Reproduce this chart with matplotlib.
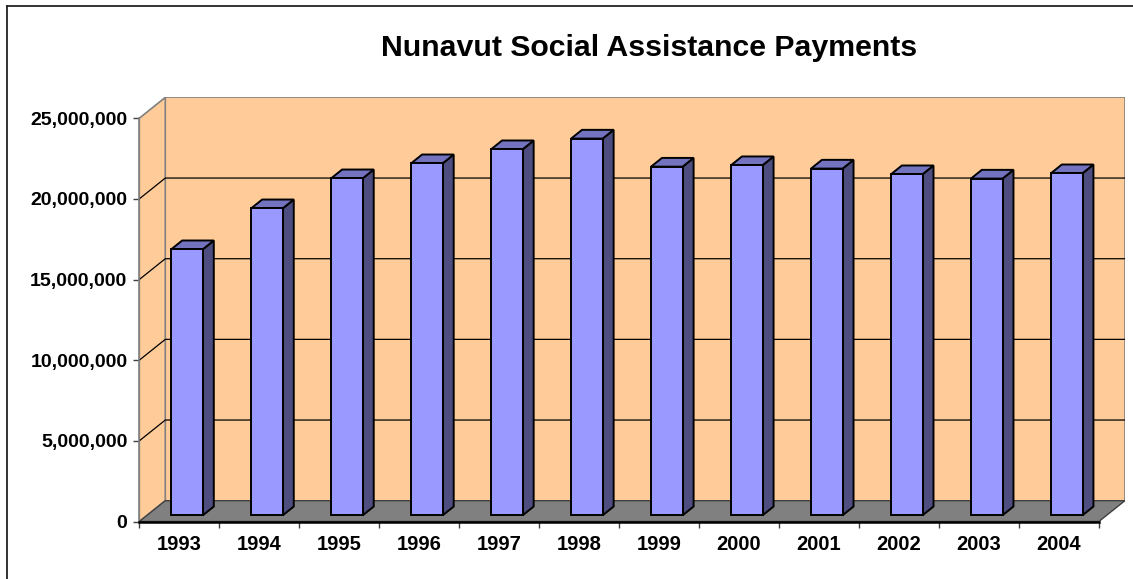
import matplotlib.pyplot as plt
from matplotlib.patches import Polygon
from matplotlib.lines import Line2D
from matplotlib.ticker import FuncFormatter, MultipleLocator, FixedLocator

years = ['1993', '1994', '1995', '1996', '1997', '1998',
         '1999', '2000', '2001', '2002', '2003', '2004']
payments = [16_490_000, 19_030_000, 20_890_000, 21_820_000, 22_690_000, 23_350_000,
            21_610_000, 21_700_000, 21_490_000, 21_140_000, 20_870_000, 21_200_000]
y_max = 25_000_000
y_step = 5_000_000

# fake 3d: depth offset of the back wall, in data units
DX = 0.325
DY = 1_290_000
BAR_W = 0.395
D0, D1 = 0.30, 0.72

WALL = '#FFCC99'
FLOOR = '#808080'
FRONT = '#9999FF'
SIDE = '#4D4D80'
TOP = '#7373BF'
plt.rcParams['font.family'] = ['Liberation Sans', 'DejaVu Sans']

W, H, DPI = 1133, 579, 100
fig = plt.figure(figsize=(W / DPI, H / DPI), dpi=DPI)
ax = fig.add_axes([139.3 / W, (H - 521.5) / H, 985.6 / W, 424.1 / H])
n = len(years)
ax.set_xlim(0, n + DX)
ax.set_ylim(0, y_max + DY)
ax.patch.set_visible(False)

# back wall and left side wall
ax.add_patch(Polygon([(DX, DY), (n + DX, DY), (n + DX, y_max + DY), (DX, y_max + DY)],
                     closed=True, fc=WALL, ec=FLOOR, lw=1.2, zorder=1))
ax.add_patch(Polygon([(0, 0), (DX, DY), (DX, y_max + DY), (0, y_max)],
                     closed=True, fc=WALL, ec=FLOOR, lw=1.2, zorder=1))

# gridlines across both walls
for v in range(y_step, y_max, y_step):
    ax.plot([0, DX, n + DX], [v, v + DY, v + DY], color='black', lw=0.9, zorder=2)

# floor
ax.add_patch(Polygon([(0, 0), (n, 0), (n + DX, DY), (DX, DY)],
                     closed=True, fc=FLOOR, ec='#404040', lw=1.0, zorder=3))

# bars: front, side and top faces
for i, v in enumerate(payments):
    c = i + 0.5
    xl, xr = c - BAR_W / 2, c + BAR_W / 2
    front = [(xl + D0 * DX, D0 * DY), (xr + D0 * DX, D0 * DY),
             (xr + D0 * DX, v + D0 * DY), (xl + D0 * DX, v + D0 * DY)]
    side = [(xr + D0 * DX, D0 * DY), (xr + D1 * DX, D1 * DY),
            (xr + D1 * DX, v + D1 * DY), (xr + D0 * DX, v + D0 * DY)]
    top = [(xl + D0 * DX, v + D0 * DY), (xr + D0 * DX, v + D0 * DY),
           (xr + D1 * DX, v + D1 * DY), (xl + D1 * DX, v + D1 * DY)]
    for pts, col in ((side, SIDE), (top, TOP), (front, FRONT)):
        ax.add_patch(Polygon(pts, closed=True, fc=col, ec='black', lw=1.4,
                             joinstyle='miter', zorder=4))

for s in ('top', 'right'):
    ax.spines[s].set_visible(False)
ax.spines['left'].set_bounds(0, y_max)
ax.spines['left'].set_color(FLOOR)
ax.spines['left'].set_linewidth(1.2)
ax.spines['bottom'].set_bounds(0, n)
ax.spines['bottom'].set_linewidth(1.8)
ax.spines['bottom'].set_zorder(5)

ax.yaxis.set_major_locator(MultipleLocator(y_step))
ax.yaxis.set_major_formatter(FuncFormatter(lambda v, p: f'{v:,.0f}' if v <= y_max else ''))
ax.tick_params(axis='y', length=4.5, width=1.0, color='#404040', pad=4,
               labelsize=14)
for lab in ax.get_yticklabels():
    lab.set_fontweight('bold')

ax.xaxis.set_major_locator(FixedLocator(range(n + 1)))
ax.xaxis.set_major_formatter(FuncFormatter(lambda v, p: ''))
ax.xaxis.set_minor_locator(FixedLocator([i + 0.5 for i in range(n)]))
ax.set_xticklabels(years, minor=True, fontsize=14.5, fontweight='bold')
ax.tick_params(axis='x', which='major', length=4.5, width=1.0, color='#404040')
ax.tick_params(axis='x', which='minor', length=0, pad=10)

fig.text(649 / W, 1 - 48 / H, 'Nunavut Social Assistance Payments',
         ha='center', va='center', fontsize=21.8, fontweight='bold')

# outer frame
fig.add_artist(Line2D([7 / W, 1], [1 - 6 / H, 1 - 6 / H], color='#222222', lw=1.3))
fig.add_artist(Line2D([7 / W, 7 / W], [0, 1 - 6 / H], color='#222222', lw=1.3))

fig.savefig('out.png', dpi=DPI)
